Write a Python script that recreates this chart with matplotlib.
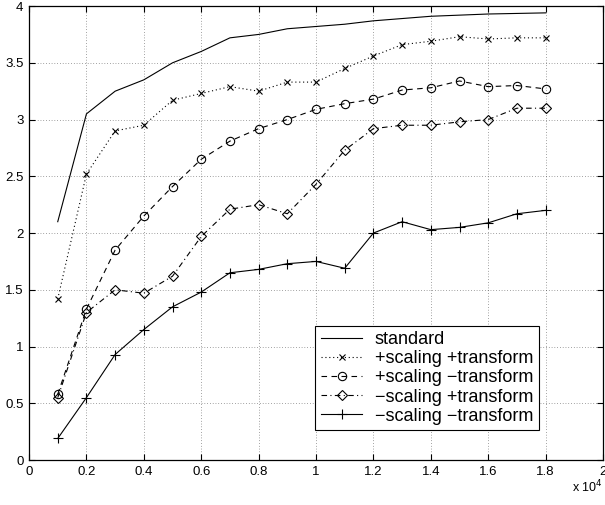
import numpy as np
import matplotlib
matplotlib.use("Agg")
import matplotlib.pyplot as plt
import matplotlib.ticker as ticker

plt.rcParams['font.family'] = ['Liberation Sans', 'DejaVu Sans']

# training set size (x axis, shown in units of 10^4)
sizes = [1000, 2000, 3000, 4000, 5000, 6000, 7000, 8000, 9000,
         10000, 11000, 12000, 13000, 14000, 15000, 16000, 17000, 18000]

standard = [2.10, 3.05, 3.25, 3.35, 3.50, 3.60, 3.72, 3.75, 3.80,
            3.82, 3.84, 3.87, 3.89, 3.91, 3.92, 3.93, 3.935, 3.94]
scal_trans = [1.42, 2.52, 2.90, 2.95, 3.17, 3.23, 3.29, 3.25, 3.33,
              3.33, 3.45, 3.56, 3.66, 3.69, 3.73, 3.71, 3.72, 3.72]
scal_notrans = [0.58, 1.33, 1.85, 2.15, 2.41, 2.65, 2.81, 2.92, 3.00,
                3.09, 3.14, 3.18, 3.26, 3.28, 3.34, 3.29, 3.30, 3.27]
noscal_trans = [0.55, 1.30, 1.50, 1.47, 1.62, 1.97, 2.21, 2.25, 2.17,
                2.43, 2.73, 2.92, 2.95, 2.95, 2.98, 3.00, 3.10, 3.10]
noscal_notrans = [0.19, 0.55, 0.93, 1.15, 1.35, 1.48, 1.65, 1.68, 1.73,
                  1.75, 1.69, 2.00, 2.10, 2.03, 2.05, 2.09, 2.17, 2.20]

labels = ["standard",
          "+scaling +transform",
          "+scaling \u2212transform",
          "\u2212scaling +transform",
          "\u2212scaling \u2212transform"]

fig = plt.figure(figsize=(6.05, 5.05), dpi=100)
ax = fig.add_axes([0.048, 0.089, 0.9487, 0.899])

lw = 0.8
ax.plot(sizes, standard, color='k', lw=lw, label=labels[0])
ax.plot(sizes, scal_trans, color='k', lw=lw, linestyle=(0, (1, 2.5)),
        marker='x', ms=4.5, mew=0.8, label=labels[1])
ax.plot(sizes, scal_notrans, color='k', lw=lw, linestyle=(0, (5, 4)),
        marker='o', ms=6, mfc='none', mew=0.8, label=labels[2])
ax.plot(sizes, noscal_trans, color='k', lw=lw, linestyle=(0, (5, 3, 1, 3)),
        marker='D', ms=5, mfc='none', mew=0.8, label=labels[3])
ax.plot(sizes, noscal_notrans, color='k', lw=lw,
        marker='+', ms=7, mew=0.8, label=labels[4])

ax.set_xlim(0, 20000)
ax.set_ylim(0, 4)
ax.xaxis.set_major_locator(ticker.MultipleLocator(2000))
ax.yaxis.set_major_locator(ticker.MultipleLocator(0.5))
ax.xaxis.set_major_formatter(ticker.FuncFormatter(lambda v, p: '%g' % (v / 1e4)))
ax.yaxis.set_major_formatter(ticker.FuncFormatter(lambda v, p: '%g' % v))
ax.tick_params(direction='in', top=True, right=True, length=4, width=0.8,
               labelsize=9.5, pad=4)
ax.grid(True, color='k', linestyle=(0, (1, 3)), linewidth=0.5, alpha=0.7)
for s in ax.spines.values():
    s.set_linewidth(0.9)

leg = ax.legend(loc='lower right', bbox_to_anchor=(0.888, 0.066), fontsize=13,
                frameon=True, fancybox=False, edgecolor='k', framealpha=1,
                labelspacing=0.12, handlelength=2.3, handletextpad=0.7,
                borderpad=0.3, borderaxespad=0)
leg.get_frame().set_linewidth(0.8)

fig.text(0.945, 0.025, r'x 10$^{4}$', fontsize=9)

fig.savefig('out.png', dpi=100)
